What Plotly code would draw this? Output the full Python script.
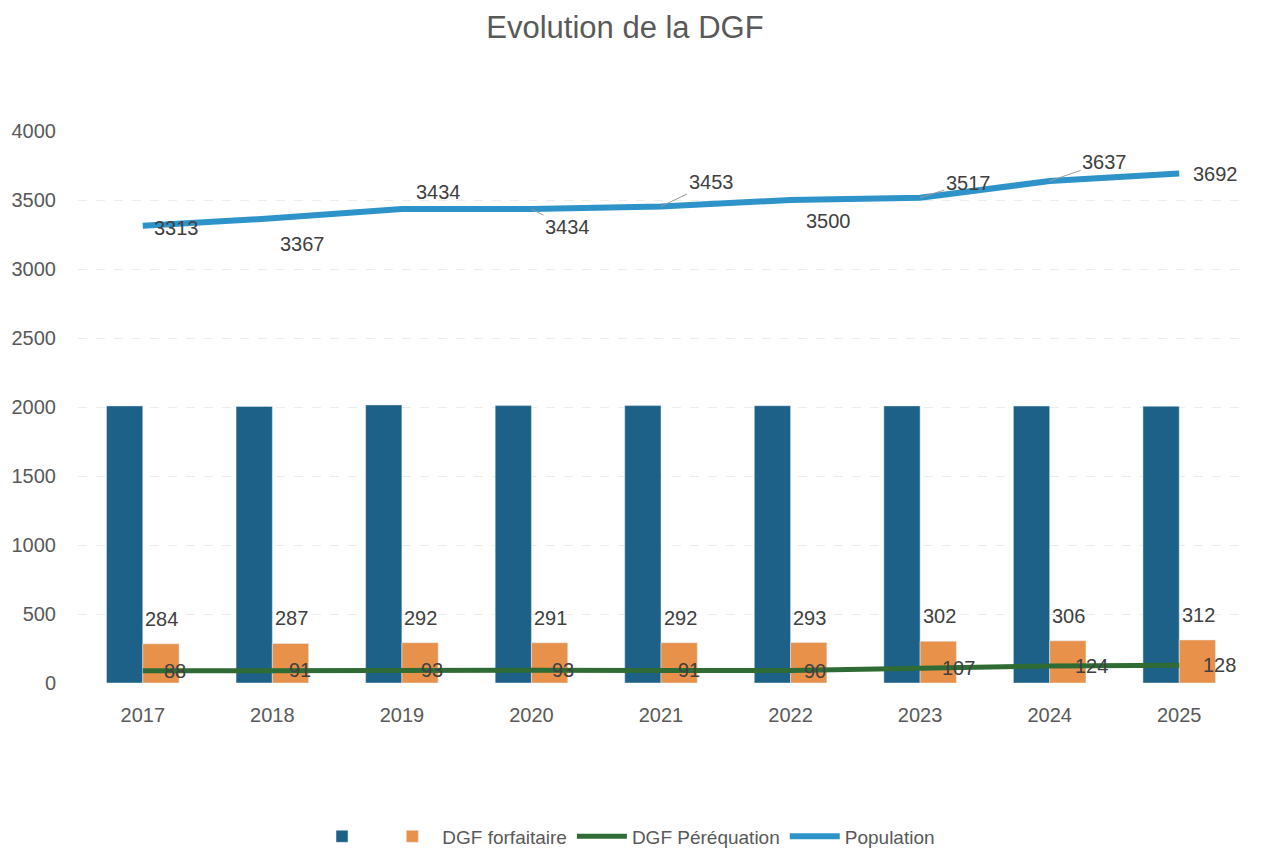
import plotly.graph_objects as go

years = ["2017", "2018", "2019", "2020", "2021", "2022", "2023", "2024", "2025"]
dgf_total = [2008, 2004, 2015, 2010, 2010, 2009, 2008, 2007, 2005]
dgf_forfaitaire = [284, 287, 292, 291, 292, 293, 302, 306, 312]
dgf_perequation = [88, 91, 93, 93, 91, 90, 107, 124, 128]
population = [3313, 3367, 3434, 3434, 3453, 3500, 3517, 3637, 3692]
y_ticks = [0, 500, 1000, 1500, 2000, 2500, 3000, 3500, 4000]

# label offsets (pixels) for population labels: (xshift, yshift, leader)
pop_offsets = [(34, -2, False), (30, -26, False), (37, 17, False), (36, -18, True),
               (50, 24, True), (38, -21, False), (48, 15, True), (55, 19, True), (36, 0, False)]
per_offsets = [32, 28, 30, 32, 28, 24, 38, 42, 40]

C_DARK = "#1d6188"
C_ORANGE = "#e8914a"
C_GREEN = "#2f6b35"
C_BLUE = "#2d93c9"
TXT = "#404040"
FONT = "Liberation Sans, Arial, sans-serif"

fig = go.Figure()
fig.add_trace(go.Bar(x=years, y=dgf_total, name=" ", marker=dict(color=C_DARK)))
fig.add_trace(go.Bar(x=years, y=dgf_forfaitaire, name="DGF forfaitaire", marker=dict(color=C_ORANGE)))
fig.add_trace(go.Scatter(x=years, y=dgf_perequation, name="DGF Péréquation", mode="lines",
                         line=dict(color=C_GREEN, width=5)))
fig.add_trace(go.Scatter(x=years, y=population, name="Population", mode="lines",
                         line=dict(color=C_BLUE, width=6)))

LBL = dict(size=20, color=TXT, family=FONT)
ann = []
for i, y in enumerate(years):
    ann.append(dict(x=i, y=dgf_forfaitaire[i], text=str(dgf_forfaitaire[i]), showarrow=False,
                    xshift=19, yshift=25, font=LBL))
    ann.append(dict(x=i, y=dgf_perequation[i], text=str(dgf_perequation[i]), showarrow=False,
                    xshift=per_offsets[i], yshift=0, font=LBL))
    xs, ys, leader = pop_offsets[i]
    if leader:
        ann.append(dict(x=i, y=population[i], text=str(population[i]), showarrow=True,
                        arrowhead=0, arrowwidth=1, arrowcolor="#9a9a9a", ax=xs, ay=-ys,
                        font=LBL))
    else:
        ann.append(dict(x=i, y=population[i], text=str(population[i]), showarrow=False,
                        xshift=xs, yshift=ys, font=LBL))

fig.update_layout(
    width=1263, height=844,
    paper_bgcolor="white", plot_bgcolor="white",
    margin=dict(l=70, r=27, t=123, b=169, autoexpand=False),
    title=dict(text="Evolution de la DGF", x=0.4885, xanchor="center", y=0.9775, yanchor="middle",
               font=dict(size=31, color="#595959", family=FONT)),
    barmode="group", bargap=0.44, bargroupgap=0,
    showlegend=True,
    legend=dict(orientation="h", x=0.47, xanchor="center", y=-0.278, yanchor="middle",
                font=dict(size=19, color="#595959", family=FONT),
                itemwidth=50, traceorder="normal"),
    annotations=ann,
    xaxis=dict(type="category", range=[-0.5, 8.5], showgrid=False, showline=False, zeroline=False,
               tickfont=dict(size=20, color="#595959", family=FONT), ticks="",
               ticklabelstandoff=18),
    yaxis=dict(range=[0, 4000], tickvals=y_ticks, showgrid=True, gridcolor="#ececec",
               griddash="dash", zeroline=False, showline=False,
               tickfont=dict(size=20, color="#595959", family=FONT), ticks="",
               ticklabelstandoff=21),
)

fig.write_html("out.html")
